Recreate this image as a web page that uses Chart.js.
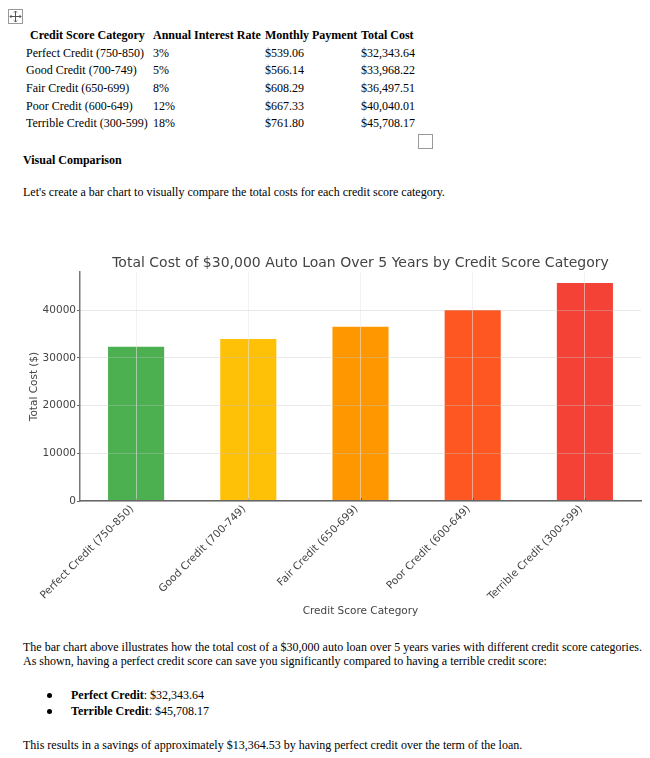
<!DOCTYPE html>
<html>
<head>
<meta charset="utf-8">
<script src="https://cdn.jsdelivr.net/npm/chart.js@4"></script>
<style>
  html, body { margin: 0; padding: 0; background: #fff; }
  body { width: 650px; height: 758px; position: relative; overflow: hidden;
         font-family: "Liberation Serif", serif; font-size: 12px; color: #000; }
  .txt { position: absolute; white-space: nowrap; line-height: 14px; }
  .box { position: absolute; border: 1px solid #999; box-sizing: border-box; }
  #chartWrap { position: absolute; left: 20px; top: 251px; width: 630px; height: 370px; }
  .dot { position: absolute; width: 5px; height: 5px; border-radius: 50%; background: #000; }
</style>
</head>
<body>
<div class="box" style="left:8px;top:9px;width:15px;height:15px;">
  <svg width="13" height="13" viewBox="0 0 13 13" style="display:block">
    <path d="M6.5 1v11M1 6.5h11M5 2.5l1.5-1.5 1.5 1.5M5 10.5l1.5 1.5 1.5-1.5M2.5 5L1 6.5 2.5 8M10.5 5L12 6.5 10.5 8" fill="none" stroke="#555" stroke-width="1"/>
  </svg>
</div>
<div id="table"></div>
<div class="box" style="left:418px;top:134px;width:15px;height:15px;"></div>

<div class="txt" style="left:23px;top:153px;font-weight:bold;">Visual Comparison</div>
<div class="txt" style="left:23px;top:185px;">Let's create a bar chart to visually compare the total costs for each credit score category.</div>

<div id="chartWrap"><canvas id="costChart" width="630" height="370"></canvas></div>

<div class="txt" style="left:23px;top:640px;">The bar chart above illustrates how the total cost of a $30,000 auto loan over 5 years varies with different credit score categories.</div>
<div class="txt" style="left:23px;top:654px;">As shown, having a perfect credit score can save you significantly compared to having a terrible credit score:</div>

<div class="dot" style="left:47px;top:693px;"></div>
<div class="txt" style="left:71px;top:688px;"><b>Perfect Credit</b>: $32,343.64</div>
<div class="dot" style="left:47px;top:709px;"></div>
<div class="txt" style="left:71px;top:704px;"><b>Terrible Credit</b>: $45,708.17</div>

<div class="txt" style="left:23px;top:738px;">This results in a savings of approximately $13,364.53 by having perfect credit over the term of the loan.</div>

<script>
const categories = ['Perfect Credit (750-850)', 'Good Credit (700-749)', 'Fair Credit (650-699)', 'Poor Credit (600-649)', 'Terrible Credit (300-599)'];
const interestRates = ['3%', '5%', '8%', '12%', '18%'];
const monthlyPayments = ['$539.06', '$566.14', '$608.29', '$667.33', '$761.80'];
const totalCostLabels = ['$32,343.64', '$33,968.22', '$36,497.51', '$40,040.01', '$45,708.17'];
const totalCosts = [32343.64, 33968.22, 36497.51, 40040.01, 45708.17];
const barColors = ['#4CAF50', '#FFC107', '#FF9800', '#FF5722', '#F44336'];
const yTicks = [0, 10000, 20000, 30000, 40000];
const yMax = 47993;

// Loan table above the chart
const rowTops = [46, 63, 81, 99, 116];
const tableEl = document.getElementById('table');
function addCell(text, left, top, bold) {
    const el = document.createElement('div');
    el.className = 'txt';
    el.style.left = left + 'px';
    el.style.top = top + 'px';
    if (bold) el.style.fontWeight = 'bold';
    el.textContent = text;
    tableEl.appendChild(el);
}
addCell('Credit Score Category', 30, 28, true);
addCell('Annual Interest Rate', 153, 28, true);
addCell('Monthly Payment', 265, 28, true);
addCell('Total Cost', 361, 28, true);
categories.forEach((c, i) => {
    addCell(c, 26, rowTops[i]);
    addCell(interestRates[i], 153, rowTops[i]);
    addCell(monthlyPayments[i], 265, rowTops[i]);
    addCell(totalCostLabels[i], 361, rowTops[i]);
});

const axisFont = { family: 'DejaVu Sans', size: 10.5 };

// Short inward tick marks on the x axis
const innerTicks = {
    id: 'innerTicks',
    afterDatasetsDraw(chart) {
        const x = chart.scales.x, c = chart.ctx, bottom = chart.chartArea.bottom;
        c.save();
        c.strokeStyle = 'rgba(70,70,70,0.7)';
        c.beginPath();
        x.ticks.forEach((t, i) => {
            const px = Math.round(x.getPixelForTick(i)) + 0.5;
            c.moveTo(px, bottom);
            c.lineTo(px, bottom - 3);
        });
        c.stroke();
        c.restore();
    }
};

new Chart(document.getElementById('costChart').getContext('2d'), {
    type: 'bar',
    data: {
        labels: categories,
        datasets: [{
            data: totalCosts,
            backgroundColor: barColors,
            borderWidth: 0,
            barPercentage: 0.5,
            categoryPercentage: 1
        }]
    },
    plugins: [innerTicks],
    options: {
        responsive: false,
        animation: false,
        layout: { padding: { right: 9 } },
        plugins: {
            legend: { display: false },
            tooltip: { enabled: false },
            title: {
                display: true,
                text: 'Total Cost of $30,000 Auto Loan Over 5 Years by Credit Score Category',
                fullSize: false,
                color: '#444',
                font: { family: 'DejaVu Sans', size: 14, weight: 'normal', lineHeight: '16px' },
                padding: { top: 4, bottom: 1 }
            }
        },
        scales: {
            x: {
                afterFit: scale => { scale.height = 120; },
                grid: { color: 'rgba(232,232,232,0.55)', z: 1, tickLength: 0, offset: false },
                border: { color: '#666', width: 1.5, z: 2 },
                ticks: {
                    color: '#444',
                    font: axisFont,
                    autoSkip: false,
                    minRotation: 45,
                    maxRotation: 45,
                    padding: 2,
                    labelOffset: -4
                },
                title: {
                    display: true,
                    text: 'Credit Score Category',
                    color: '#444',
                    font: axisFont,
                    padding: { top: 0, bottom: 3 }
                }
            },
            y: {
                min: 0,
                max: yMax,
                afterFit: scale => { scale.width = 60; },
                afterBuildTicks: scale => { scale.ticks = yTicks.map(v => ({ value: v })); },
                grid: { color: 'rgba(195,195,195,0.75)', tickColor: '#666', tickLength: 3, z: 1, tickBorderDash: [] },
                border: { color: '#777', width: 1.5, dash: [1, 1], z: 2 },
                ticks: { color: '#444', font: axisFont, padding: 1, callback: v => String(v) },
                title: {
                    display: true,
                    text: 'Total Cost ($)',
                    color: '#444',
                    font: axisFont,
                    padding: { top: 8, bottom: 0 }
                }
            }
        }
    }
});
</script>
</body>
</html>
